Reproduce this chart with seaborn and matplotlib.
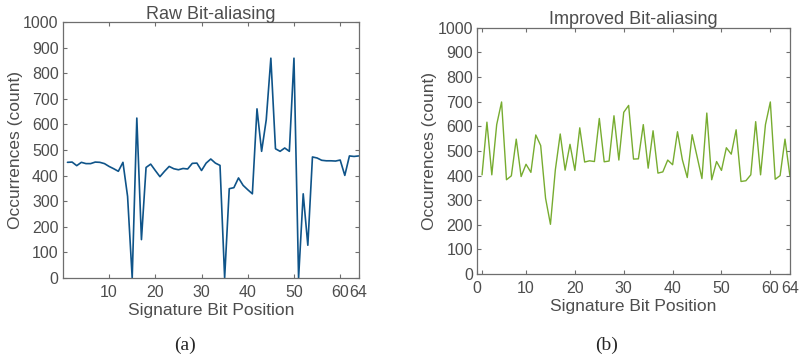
import numpy as np
import pandas as pd
import matplotlib
matplotlib.use("Agg")
import matplotlib.pyplot as plt
import seaborn as sns

# bit positions 1..64
bit_pos = list(range(1, 65))

# raw bit-aliasing occurrences
raw_counts = [452, 453, 439, 452, 447, 447, 453, 452, 447, 436,
              427, 417, 452, 319, 0, 625, 150, 432, 445, 420,
              396, 417, 436, 427, 423, 428, 426, 448, 449, 420,
              449, 465, 449, 440, 0, 349, 353, 391, 362, 345,
              329, 661, 495, 618, 859, 505, 495, 508, 495, 859,
              0, 329, 128, 473, 469, 460, 458, 458, 457, 461,
              401, 477, 475, 477]

# improved bit-aliasing occurrences
improved_counts = [403, 617, 403, 607, 699, 383, 399, 548, 396, 446,
                   413, 565, 522, 308, 202, 423, 569, 422, 527, 421,
                   594, 455, 460, 457, 632, 456, 459, 643, 463, 657,
                   685, 467, 468, 607, 430, 582, 410, 415, 463, 444,
                   578, 464, 392, 566, 478, 388, 654, 383, 457, 421,
                   513, 487, 586, 376, 379, 403, 619, 403, 607, 699,
                   385, 400, 548, 400]

df = pd.DataFrame({"bit": bit_pos, "raw": raw_counts, "improved": improved_counts})

sns.set_style("white")
plt.rcParams['font.family'] = ['Liberation Sans', 'DejaVu Sans']
text_col = "#4d4d4d"
spine_col = "#6e6e6e"

fig = plt.figure(figsize=(8.06, 3.62), dpi=100)
ax1 = fig.add_axes([0.078, 0.232, 0.367, 0.707])
ax2 = fig.add_axes([0.592, 0.243, 0.388, 0.680])

sns.lineplot(data=df, x="bit", y="raw", ax=ax1, color="#0f5489", linewidth=1.2)
sns.lineplot(data=df, x="bit", y="improved", ax=ax2, color="#77ac30", linewidth=1.0)

for ax, title in [(ax1, "Raw Bit-aliasing"), (ax2, "Improved Bit-aliasing")]:
    ax.set_xlim(0, 64)
    ax.set_ylim(0, 1000)
    ax.set_yticks(range(0, 1001, 100))
    ax.set_title(title, fontsize=13, color=text_col, pad=2)
    ax.set_xlabel("Signature Bit Position", fontsize=12.5, color=text_col, labelpad=2)
    ax.set_ylabel("Occurrences (count)", fontsize=12.5, color=text_col, labelpad=0)
    ax.tick_params(direction="in", length=3, width=0.8, colors=spine_col,
                   labelcolor=text_col, labelsize=11.5, top=True, right=True,
                   bottom=True, left=True, pad=5)
    ax.tick_params(axis="y", pad=3)
    for s in ax.spines.values():
        s.set_color(spine_col)
        s.set_linewidth(0.9)
        s.set_visible(True)

ax1.set_xticks([10, 20, 30, 40, 50, 60, 64])
ax2.set_xticks([0, 10, 20, 30, 40, 50, 60, 64])
ax2.set_xticks([1], minor=True)
ax2.tick_params(which="minor", direction="in", length=3, width=0.8,
                colors=spine_col, bottom=True, top=True)

fig.text(0.2295, 0.047, "(a)", fontsize=14, family="Liberation Serif",
         ha="center", va="center")
fig.text(0.752, 0.047, "(b)", fontsize=14, family="Liberation Serif",
         ha="center", va="center")

fig.savefig("out.png", dpi=100)
